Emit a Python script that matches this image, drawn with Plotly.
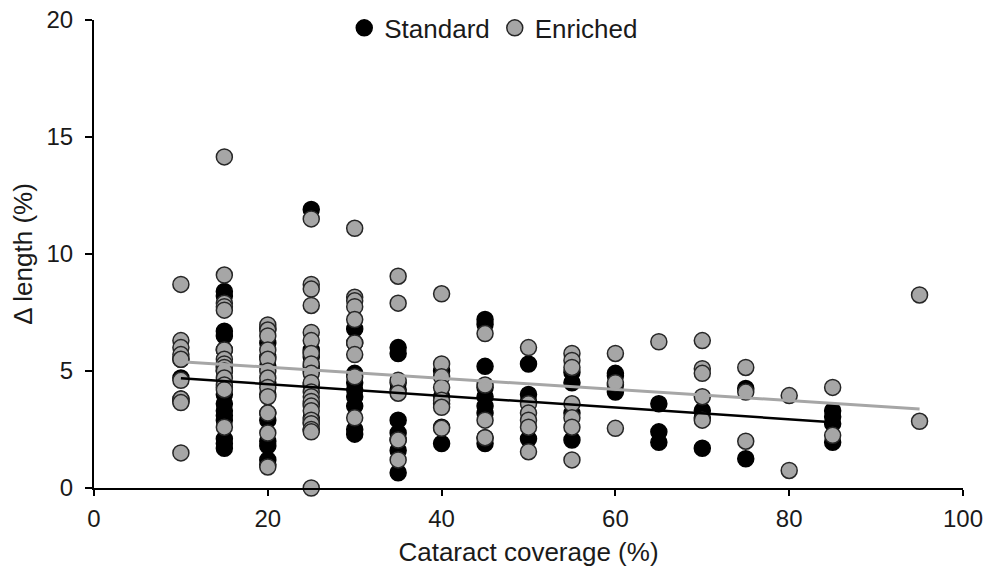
import numpy as np
import plotly.graph_objects as go

# Standard group: coverage (%) -> delta length (%) values
std_groups = {
    10: [5.5, 4.7, 3.8, 3.7],
    15: [8.4, 8.2, 6.7, 6.5, 5.9, 5.2, 5.0, 4.3, 4.0, 3.6, 3.3, 3.1, 2.9, 2.1, 1.9, 1.7],
    20: [6.8, 6.2, 5.6, 5.2, 4.5, 4.0, 3.2, 2.9, 2.0, 1.8, 1.2, 1.0],
    25: [11.9, 5.9, 5.8, 5.6, 5.2, 5.0, 4.4, 3.6, 3.0, 2.8, 2.5],
    30: [6.8, 6.2, 4.9, 4.5, 4.2, 3.9, 3.5, 2.5, 2.3],
    35: [6.0, 5.75, 4.5, 4.2, 2.9, 2.35, 2.05, 1.6, 0.65],
    40: [5.0, 3.9, 3.6, 2.6, 1.9],
    45: [7.2, 7.0, 5.2, 4.3, 3.9, 3.5, 3.2, 2.15, 1.9],
    50: [5.3, 4.0, 3.7, 2.1],
    55: [4.95, 4.5, 3.2, 2.05],
    60: [4.9, 4.8, 4.4, 4.1],
    65: [3.6, 2.4, 1.95],
    70: [3.3, 3.0, 1.7],
    75: [4.25, 1.25],
    85: [3.3, 3.05, 2.75, 1.95],
}

# Enriched group
enr_groups = {
    10: [8.7, 6.3, 6.0, 5.7, 5.5, 4.6, 3.8, 3.65, 1.5],
    15: [14.15, 9.1, 7.9, 7.75, 7.6, 5.9, 5.5, 5.3, 5.15, 5.0, 4.7, 4.4, 4.2, 2.6],
    20: [6.97, 6.75, 6.5, 5.9, 5.5, 5.0, 4.7, 4.3, 3.9, 3.2, 2.35, 0.9],
    25: [11.5, 8.7, 8.5, 7.8, 6.65, 6.3, 5.75, 5.3, 4.9, 4.5, 4.1, 3.9, 3.7, 3.5,
         3.3, 2.9, 2.75, 2.5, 2.4, 0.0],
    30: [11.1, 8.15, 8.0, 7.75, 7.2, 6.2, 5.7, 4.75, 3.0],
    35: [9.05, 7.9, 4.6, 4.05, 2.05, 1.2],
    40: [8.3, 5.3, 4.75, 4.3, 3.75, 3.45, 2.55],
    45: [6.6, 4.4, 2.9, 2.15],
    50: [6.0, 3.6, 3.2, 2.9, 2.6, 1.55],
    55: [5.75, 5.45, 5.15, 3.6, 3.0, 2.6, 1.2],
    60: [5.75, 4.5, 2.55],
    65: [6.25],
    70: [6.3, 5.1, 4.9, 3.9, 2.9],
    75: [5.15, 4.1, 2.0],
    80: [3.95, 0.75],
    85: [4.3, 2.25],
    95: [8.25, 2.85],
}

# Linear trend lines (endpoints)
trend_std_x = [10, 85]
trend_std_y = [4.69, 2.81]
trend_enr_x = [10, 95]
trend_enr_y = [5.40, 3.38]

x_ticks = [0, 20, 40, 60, 80, 100]
y_ticks = [0, 5, 10, 15, 20]


def flatten(groups):
    xs, ys = [], []
    for k, vals in groups.items():
        for v in vals:
            xs.append(k)
            ys.append(v)
    return np.array(xs, float), np.array(ys, float)


sx, sy = flatten(std_groups)
ex, ey = flatten(enr_groups)

GRAY = "#a6a6a6"
TXT = "#1a1a1a"
FONT = "Liberation Sans, Arial, sans-serif"

fig = go.Figure()

fig.add_trace(go.Scatter(x=sx, y=sy, mode="markers", name="Standard",
                         marker=dict(size=16, color="black",
                                     line=dict(color="black", width=1.5)),
                         cliponaxis=False))
fig.add_trace(go.Scatter(x=ex, y=ey, mode="markers", name="Enriched",
                         marker=dict(size=16, color=GRAY,
                                     line=dict(color="#262626", width=1.5)),
                         cliponaxis=False))
fig.add_trace(go.Scatter(x=trend_std_x, y=trend_std_y, mode="lines", showlegend=False,
                         line=dict(color="black", width=2.5)))
fig.add_trace(go.Scatter(x=trend_enr_x, y=trend_enr_y, mode="lines", showlegend=False,
                         line=dict(color=GRAY, width=3)))

fig.update_layout(
    width=987, height=574,
    margin=dict(l=94, r=24, t=20, b=86, autoexpand=False),
    paper_bgcolor="white", plot_bgcolor="white",
    font=dict(family=FONT, size=24, color=TXT),
    legend=dict(orientation="h", x=0.46, xanchor="center", y=0.983, yanchor="middle",
                font=dict(size=26, color=TXT), itemwidth=30, bgcolor="rgba(0,0,0,0)"),
    showlegend=True,
)
fig.update_xaxes(range=[0, 100], tickvals=x_ticks, showgrid=False, zeroline=False,
                 showline=True, linecolor="black", linewidth=2,
                 ticks="outside", ticklen=6, tickcolor="black", tickwidth=2,
                 ticklabelstandoff=2, ticklabeloverflow="allow",
                 title=dict(text="Cataract coverage (%)", standoff=12,
                            font=dict(size=26, color=TXT)),
                 tickfont=dict(size=24, color=TXT))
fig.update_yaxes(range=[0, 20], tickvals=y_ticks, showgrid=False, zeroline=False,
                 showline=True, linecolor="black", linewidth=2,
                 ticks="outside", ticklen=7, tickcolor="black", tickwidth=2,
                 ticklabelstandoff=7, ticklabeloverflow="allow",
                 title=dict(text="Δ length (%)", standoff=6,
                            font=dict(size=26, color=TXT)),
                 tickfont=dict(size=24, color=TXT))

# remove the page's default body margin so the figure fills the window exactly
fig.write_html("out.html",
               config={"displayModeBar": False},
               post_script="document.body.style.margin='0';"
                           "document.body.style.overflow='hidden';")
